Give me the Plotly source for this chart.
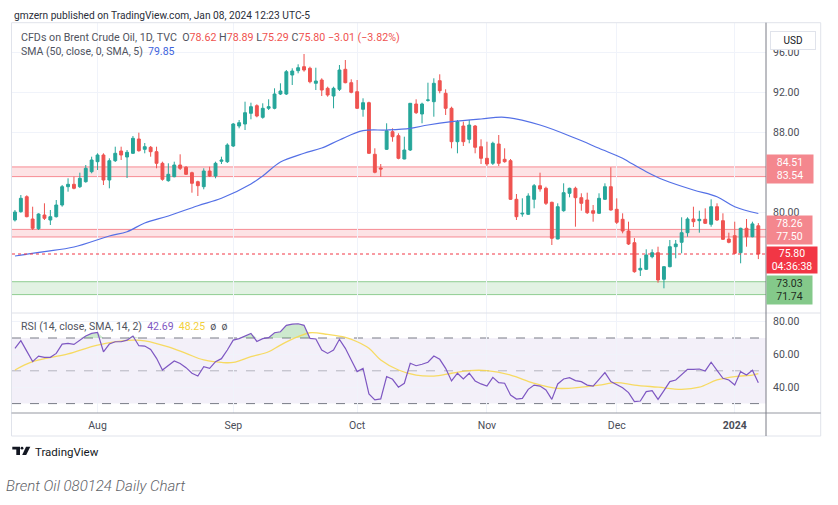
import plotly.graph_objects as go

# ---------------- data ----------------
jul = [12, 13, 14, 17, 18, 19, 20, 21, 24, 25, 26, 27, 28, 31]
aug = [1, 2, 3, 4, 7, 8, 9, 10, 11, 14, 15, 16, 17, 18, 21, 22, 23, 24, 25, 28, 29, 30, 31]
sep = [1, 4, 5, 6, 7, 8, 11, 12, 13, 14, 15, 18, 19, 20, 21, 22, 25, 26, 27, 28, 29]
octo = [2, 3, 4, 5, 6, 9, 10, 11, 12, 13, 16, 17, 18, 19, 20, 23, 24, 25, 26, 27, 30, 31]
nov = [1, 2, 3, 6, 7, 8, 9, 10, 13, 14, 15, 16, 17, 20, 21, 22, 23, 24, 27, 28, 29, 30]
dec = [1, 4, 5, 6, 7, 8, 11, 12, 13, 14, 15, 18, 19, 20, 21, 22, 26, 27, 28, 29]
jan = [2, 3, 4, 5, 8]

dates = ([f"2023-07-{d:02d}" for d in jul] + [f"2023-08-{d:02d}" for d in aug] +
         [f"2023-09-{d:02d}" for d in sep] + [f"2023-10-{d:02d}" for d in octo] +
         [f"2023-11-{d:02d}" for d in nov] + [f"2023-12-{d:02d}" for d in dec] +
         [f"2024-01-{d:02d}" for d in jan])

opens = [79.2, 80.03, 81.53, 79.3, 78.33, 79.7, 79.2, 79.53, 80.7, 82.53, 82.77, 82.53, 83.03, 84.03,
         85.03, 85.7, 83.2, 85.13, 86.1, 85.5, 85.87, 87.3, 86.27, 86.47, 86.03, 84.87, 83.13, 83.53,
         84.7, 84.47, 83.93, 83.03, 82.53, 84.1, 83.6, 85.07, 85.03, 86.6, 88.6, 88.8, 89.87, 90.63,
         89.47, 90.37, 90.37, 91.8, 91.8, 93.7, 94.13, 94.53, 94.37, 92.87, 93.2, 92.37, 91.6, 92.27,
         94.27, 92.93, 92.03, 90.27, 90.93, 85.77, 84.4, 86.27, 88.03, 87.63, 85.3, 86.2, 90.8, 89.8,
         91.17, 91.03, 93.13, 91.87, 90.37, 87.03, 88.6, 87.27, 88.6, 86.53, 85.37, 84.87, 86.8, 85.27,
         85.13, 81.27, 79.8, 79.77, 81.27, 82.63, 82.37, 80.97, 77.3, 80.13, 81.87, 82.37, 81.43, 81.2,
         80.13, 79.87, 81.27, 82.53, 80.27, 79.27, 78.1, 76.93, 74.2, 74.27, 75.53, 75.93, 73.27, 74.53,
         76.53, 76.97, 77.93, 79.3, 79.13, 79.27, 78.77, 80.53, 79.13, 77.3, 77.63, 75.93, 78.37, 77.53,
         78.62]
highs = [80.2, 81.7, 81.67, 80.53, 79.87, 80.87, 80.2, 81.2, 82.7, 83.37, 83.53, 83.93, 84.7, 85.53,
         85.87, 85.87, 85.37, 86.53, 86.53, 86.2, 87.6, 87.93, 86.9, 86.6, 86.53, 85.03, 84.87, 85.03,
         85.77, 84.6, 84.03, 83.13, 84.37, 84.53, 85.03, 85.53, 86.87, 88.9, 89.2, 91.03, 90.93, 90.77,
         90.87, 91.27, 92.37, 92.87, 94.2, 94.37, 94.77, 95.8, 94.53, 94.43, 93.37, 92.53, 92.53, 94.7,
         95.2, 93.27, 93.2, 91.37, 91.03, 86.37, 84.8, 88.87, 88.37, 87.87, 87.53, 90.9, 91.27, 90.93,
         92.93, 93.37, 93.77, 92.27, 90.53, 89.2, 89.03, 89.2, 88.7, 87.27, 87.03, 87.03, 87.7, 86.37,
         85.3, 81.8, 81.37, 81.87, 82.8, 83.93, 82.53, 81.03, 80.87, 82.87, 82.43, 82.53, 81.87, 81.93,
         80.7, 81.87, 82.87, 84.47, 81.37, 79.87, 79.03, 77.4, 75.37, 76.27, 76.27, 76.53, 74.6, 77.2,
         77.2, 79.47, 79.47, 80.53, 80.13, 80.37, 81.27, 80.87, 79.87, 77.93, 79.03, 78.43, 79.3, 79.03,
         78.89]
lows = [79.05, 79.93, 79.47, 78.2, 78.2, 79.2, 78.7, 79.45, 80.53, 82.03, 82.27, 82.4, 82.93, 83.87,
        84.2, 82.7, 82.37, 85.0, 85.2, 83.4, 85.8, 86.03, 85.87, 85.53, 84.37, 83.13, 83.03, 83.47,
        84.2, 83.7, 81.93, 81.6, 82.27, 83.5, 83.37, 84.8, 84.9, 86.5, 88.37, 88.2, 89.27, 89.47,
        89.33, 90.2, 90.27, 91.7, 91.7, 92.7, 93.87, 94.03, 92.87, 92.2, 91.6, 91.53, 90.37, 92.1,
        92.87, 91.87, 90.3, 89.53, 85.8, 83.87, 83.53, 86.2, 87.03, 85.27, 85.27, 86.1, 89.8, 88.87,
        91.03, 89.53, 91.87, 89.7, 86.37, 85.87, 86.6, 86.87, 85.87, 84.8, 84.6, 84.7, 84.6, 84.93,
        81.2, 79.2, 79.53, 79.7, 80.37, 82.03, 80.7, 76.7, 77.27, 80.03, 81.47, 78.53, 80.13, 79.8,
        79.03, 79.8, 81.2, 80.13, 78.8, 77.87, 76.7, 73.93, 73.6, 74.2, 75.37, 72.93, 72.37, 74.47,
        75.37, 75.87, 77.53, 78.5, 77.93, 78.8, 78.53, 79.1, 77.2, 76.87, 75.8, 74.87, 76.53, 77.47,
        75.29]
closes = [80.0, 81.37, 79.53, 78.37, 79.8, 79.37, 79.53, 80.7, 82.53, 82.77, 82.37, 83.37, 84.37, 85.2,
          85.7, 83.2, 85.13, 85.87, 85.7, 85.97, 87.37, 86.13, 86.53, 86.03, 84.87, 83.27, 83.77, 84.7,
          84.37, 83.77, 82.87, 82.63, 84.1, 83.6, 84.87, 85.2, 86.7, 88.8, 88.93, 89.93, 90.53, 89.6,
          90.37, 90.53, 91.8, 92.1, 94.03, 94.1, 94.43, 94.2, 93.03, 93.1, 92.2, 91.7, 92.37, 94.2,
          92.93, 91.97, 90.37, 90.93, 85.87, 83.97, 84.3, 88.13, 87.53, 85.37, 86.2, 90.87, 89.93, 90.8,
          91.2, 92.87, 92.13, 90.37, 87.03, 89.03, 87.03, 88.7, 86.47, 85.37, 84.8, 86.87, 84.87, 85.03,
          81.27, 79.53, 79.87, 81.6, 82.63, 82.3, 80.87, 77.37, 80.53, 81.93, 82.37, 81.43, 80.87, 79.93,
          79.87, 81.37, 82.53, 80.2, 78.97, 78.1, 76.8, 74.03, 74.37, 75.7, 75.93, 73.2, 74.53, 76.53,
          76.8, 77.93, 79.3, 79.03, 79.27, 78.87, 80.53, 79.2, 77.27, 76.97, 75.87, 78.37, 77.53, 78.81,
          75.80]

sma_idx = [0, 5, 10, 16, 19, 22, 26, 31, 35, 40, 42, 45, 49, 52, 55, 59, 63, 67, 70, 74, 79, 83,
           89, 95, 99, 103, 104, 107, 110, 115, 119, 122, 126]
sma_vals = [75.6, 76.03, 76.5, 77.6, 78.03, 78.9, 79.6, 80.63, 81.37, 82.8, 83.6, 85.0, 85.87, 86.4,
            87.2, 88.13, 88.2, 88.37, 88.7, 89.03, 89.3, 89.47, 88.7, 87.37, 86.37, 85.37, 85.03, 84.03,
            83.2, 82.2, 81.53, 80.53, 79.85]

rsi = [63.7, 68.4, 62.0, 55.6, 59.0, 58.2, 58.2, 60.6, 66.3, 66.7, 66.1, 68.7, 71.2, 72.8, 73.4, 61.6,
       66.3, 67.7, 67.7, 68.7, 71.2, 65.3, 65.1, 63.0, 57.6, 50.5, 53.1, 56.0, 54.5, 51.9, 48.5, 46.8,
       52.5, 51.5, 55.6, 57.4, 62.7, 68.7, 69.6, 71.2, 72.8, 67.9, 69.6, 70.2, 73.2, 73.8, 77.7, 78.5,
       78.7, 77.7, 69.8, 69.4, 62.7, 60.6, 62.7, 69.2, 63.7, 56.6, 49.5, 51.5, 35.9, 32.3, 32.9, 46.5,
       44.8, 40.0, 42.4, 54.6, 53.1, 54.0, 55.2, 59.0, 57.0, 51.5, 43.8, 48.5, 45.0, 48.5, 43.8, 42.0,
       40.7, 46.0, 42.8, 42.4, 35.2, 32.8, 33.2, 38.7, 41.3, 40.7, 38.3, 32.6, 42.0, 45.0, 45.8, 44.0,
       43.4, 41.3, 40.7, 44.8, 48.9, 43.4, 41.3, 39.7, 36.7, 31.2, 31.6, 37.3, 37.9, 32.6, 37.9, 43.4,
       44.4, 47.4, 50.9, 50.9, 51.1, 49.9, 55.2, 50.3, 45.4, 44.4, 41.3, 49.5, 47.4, 50.3, 42.69]

rsi_ma_idx = [0, 3, 9, 14, 20, 22, 26, 29, 32, 35, 37, 40, 43, 45, 48, 50, 53, 56, 58, 60, 62, 65,
              68, 71, 74, 77, 80, 84, 88, 92, 96, 99, 102, 105, 109, 113, 116, 119, 122, 125, 126]
rsi_ma_vals = [50.5, 55.6, 60.3, 65.7, 68.7, 68.3, 64.6, 60.6, 56.6, 55.1, 55.1, 58.6, 61.6, 65.7,
               70.8, 73.2, 72.2, 70.4, 67.7, 63.7, 56.6, 50.5, 47.4, 46.8, 48.5, 50.1, 50.1, 47.4,
               42.4, 39.3, 40.0, 41.3, 42.8, 41.3, 40.0, 38.7, 40.0, 44.4, 46.5, 47.4, 48.25]

res_zone_1 = [83.54, 84.51]
res_zone_2 = [77.50, 78.26]
sup_zone = [71.74, 73.03]

month_ticks = ["2023-08-01", "2023-09-01", "2023-10-02", "2023-11-01", "2023-12-01", "2024-01-02"]
month_text = ["Aug", "Sep", "Oct", "Nov", "Dec", "<b>2024</b>"]
price_ticks = [80, 88, 92, 96]
rsi_ticks = [40, 60, 80]

# ---------------- style ----------------
W, Hh = 838, 505
ML, MR, MT, MB = 12, 72, 23, 92
PW, PH = W - ML - MR, Hh - MT - MB
split = (413 - 313) / PH
FONT = "Roboto"
UP, DN = "#26a69a", "#ef5350"
BLUE = "#5470e6"
PURPLE = "#7e57c2"
YEL = "rgba(247,214,72,0.85)"
GRID = "#f0f3fa"
TXT = "#50535e"


def px(x):
    return (x - ML) / PW


def py(y):
    return (MT + PH - y) / PH


n = len(dates)
fig = go.Figure()

fig.add_trace(go.Candlestick(
    x=dates, open=opens, high=highs, low=lows, close=closes,
    increasing=dict(line=dict(color=UP, width=1), fillcolor=UP),
    decreasing=dict(line=dict(color=DN, width=1), fillcolor=DN),
    whiskerwidth=0, xaxis="x", yaxis="y", showlegend=False, hoverinfo="skip"))

fig.add_trace(go.Scatter(
    x=[dates[i] for i in sma_idx], y=sma_vals, mode="lines",
    line=dict(color=BLUE, width=1.2, shape="spline"), xaxis="x", yaxis="y",
    showlegend=False, hoverinfo="skip"))

# RSI overbought fill
fig.add_trace(go.Scatter(x=dates, y=[70] * n, mode="lines", line=dict(width=0),
                         xaxis="x2", yaxis="y2", showlegend=False, hoverinfo="skip"))
fig.add_trace(go.Scatter(x=dates, y=[max(v, 70) for v in rsi], mode="lines", line=dict(width=0),
                         fill="tonexty", fillcolor="rgba(76,175,80,0.28)",
                         xaxis="x2", yaxis="y2", showlegend=False, hoverinfo="skip"))
fig.add_trace(go.Scatter(
    x=[dates[i] for i in rsi_ma_idx], y=rsi_ma_vals, mode="lines",
    line=dict(color=YEL, width=1.3, shape="spline"), xaxis="x2", yaxis="y2",
    showlegend=False, hoverinfo="skip"))
fig.add_trace(go.Scatter(x=dates, y=rsi, mode="lines", line=dict(color=PURPLE, width=1.2),
                         xaxis="x2", yaxis="y2", showlegend=False, hoverinfo="skip"))

shapes = []
# zones
for z, fc, lc in [(res_zone_1, "rgba(242,54,69,0.14)", "rgba(242,54,69,0.55)"),
                  (res_zone_2, "rgba(242,54,69,0.14)", "rgba(242,54,69,0.55)"),
                  (sup_zone, "rgba(76,175,80,0.16)", "rgba(76,175,80,0.6)")]:
    shapes.append(dict(type="rect", xref="x domain", yref="y", x0=0, x1=1, y0=z[0], y1=z[1],
                       fillcolor=fc, line=dict(width=0), layer="below"))
    for v in z:
        shapes.append(dict(type="line", xref="x domain", yref="y", x0=0, x1=1, y0=v, y1=v,
                           line=dict(color=lc, width=1), layer="below"))
# last price dotted line
shapes.append(dict(type="line", xref="x domain", yref="y", x0=0, x1=1, y0=closes[-1], y1=closes[-1],
                   line=dict(color="#f23645", width=1, dash="dot")))
# RSI band and levels
shapes.append(dict(type="rect", xref="x2 domain", yref="y2", x0=0, x1=1, y0=30, y1=70,
                   fillcolor="rgba(126,87,194,0.09)", line=dict(width=0), layer="below"))
for lvl, col in [(70, "#787b86"), (50, "rgba(120,123,134,0.5)"), (30, "#787b86")]:
    shapes.append(dict(type="line", xref="x2 domain", yref="y2", x0=0, x1=1, y0=lvl, y1=lvl,
                       line=dict(color=col, width=1, dash="dash"), layer="below"))
# frame lines
shapes.append(dict(type="rect", xref="paper", yref="paper", x0=px(11.5), x1=px(820.7),
                   y0=py(436), y1=py(22.7), line=dict(color="#e0e3eb", width=1)))
shapes.append(dict(type="line", xref="paper", yref="paper", x0=px(11.5), x1=px(820.7),
                   y0=py(313), y1=py(313), line=dict(color="#dfe1e8", width=1)))
shapes.append(dict(type="line", xref="paper", yref="paper", x0=px(11.5), x1=px(820.7),
                   y0=py(413), y1=py(413), line=dict(color="#9598a1", width=1)))
shapes.append(dict(type="line", xref="paper", yref="paper", x0=1, x1=1,
                   y0=py(436), y1=py(22.7), line=dict(color="#7a7d86", width=1)))
# TradingView logo
shapes.append(dict(type="path", xref="paper", yref="paper", fillcolor="#131722", line=dict(width=0),
                   path=(f"M {px(12.3)},{py(446.7)} L {px(20)},{py(446.7)} L {px(20)},{py(455)} "
                         f"L {px(16.3)},{py(455)} L {px(16.3)},{py(449.6)} L {px(12.3)},{py(449.6)} Z")))
shapes.append(dict(type="circle", xref="paper", yref="paper", fillcolor="#131722", line=dict(width=0),
                   x0=px(20.6), x1=px(23.4), y0=py(449.6), y1=py(446.8)))
shapes.append(dict(type="path", xref="paper", yref="paper", fillcolor="#131722", line=dict(width=0),
                   path=(f"M {px(26)},{py(446.7)} L {px(30.3)},{py(446.7)} L {px(26.2)},{py(455)} "
                         f"L {px(22.2)},{py(455)} Z")))

anns = []


def text_ann(x, y, txt, size=10, color=TXT, **kw):
    d = dict(xref="paper", yref="paper", x=px(x), y=py(y), text=txt, showarrow=False,
             xanchor="left", yanchor="middle", font=dict(family=FONT, size=size, color=color))
    d.update(kw)
    anns.append(d)


RED_T = "#ef5350"
chg = closes[-1] - closes[-2]
pct = chg / closes[-2] * 100


def sp(c, t):
    return f"<span style='color:{c}'>{t}</span>"


def sgn(v, f):
    return ("\u2212" if v < 0 else "+") + format(abs(v), f)


text_ann(12, 15, "gmzern published on TradingView.com, Jan 08, 2024 12:23 UTC-5", 10.2, "#2a2e39")
text_ann(18.5, 37.5,
         "CFDs on Brent Crude Oil, 1D, TVC  "
         f"O{sp(RED_T, f'{opens[-1]:.2f}')} H{sp(RED_T, f'{highs[-1]:.2f}')} "
         f"L{sp(RED_T, f'{lows[-1]:.2f}')} C{sp(RED_T, f'{closes[-1]:.2f}')} "
         + sp(RED_T, f"{sgn(chg, '.2f')} ({sgn(pct, '.2f')}%)"), 10.7)
text_ann(18.5, 52, f"SMA (50, close, 0, SMA, 5)  {sp('#3d63dd', f'{sma_vals[-1]:.2f}')}", 10.5)
text_ann(19, 326, f"RSI (14, close, SMA, 14, 2)  {sp(PURPLE, f'{rsi[-1]:.2f}')}  "
                  f"{sp('#f2d03b', f'{rsi_ma_vals[-1]:.2f}')}  \u00f8  \u00f8", 10.5)
text_ann(32.5, 451.5, "TradingView", 11.5, "#131722")
text_ann(3.5, 486, "Brent Oil 080124 Daily Chart", 15, "#5f6368",
         font=dict(family=FONT, size=15, color="#5f6368", style="italic", weight=300))

# USD button
anns.append(dict(xref="paper", yref="paper", x=px(792.5), y=py(41), text="USD", showarrow=False,
                 xanchor="center", yanchor="middle", width=44, height=17, bgcolor="white",
                 bordercolor="#e0e3eb", borderwidth=1, borderpad=0,
                 font=dict(family=FONT, size=10, color="#131722")))


def price_box(vals, yshift, bg, fc, w):
    anns.append(dict(xref="paper", yref="y", x=1.0, y=sum(vals) / len(vals), yshift=yshift,
                     text="<br>".join(f"{v:.2f}" for v in vals),
                     showarrow=False, xanchor="left", yanchor="middle", align="center",
                     width=w, height=28, bgcolor=bg, borderpad=0,
                     font=dict(family=FONT, size=10.5, color=fc)))


price_box(res_zone_1[::-1], 2.3, "#f4878e", "white", 46)
price_box(res_zone_2[::-1], 3, "#f4878e", "white", 45)
price_box(sup_zone[::-1], -1.5, "#84c98a", "#1f2d1f", 45)
anns.append(dict(xref="paper", yref="y", x=1.0, y=closes[-1], yshift=-6.3,
                 text=f"{closes[-1]:.2f}<br>04:36:38", showarrow=False, xanchor="left",
                 yanchor="middle", align="center", width=50, height=26, bgcolor="#f23645",
                 borderpad=0, font=dict(family=FONT, size=10.5, color="white")))

xrange = [-0.5, 127.3]
fig.update_layout(
    width=W, height=Hh, margin=dict(l=ML, r=MR, t=MT, b=MB),
    paper_bgcolor="white", plot_bgcolor="white", showlegend=False,
    font=dict(family=FONT, size=10, color="#4a4d57"),
    shapes=shapes, annotations=anns,
    xaxis=dict(type="category", categoryorder="array", categoryarray=dates, domain=[0, 1],
               anchor="y", range=xrange, tickvals=month_ticks, showticklabels=False,
               showgrid=True, gridcolor=GRID, zeroline=False, showline=False,
               rangeslider=dict(visible=False), fixedrange=True),
    xaxis2=dict(type="category", categoryorder="array", categoryarray=dates, domain=[0, 1],
                anchor="y2", range=xrange, tickvals=month_ticks, ticktext=month_text,
                showgrid=True, gridcolor=GRID, zeroline=False, showline=False, ticks="",
                tickfont=dict(family=FONT, size=10.5, color="#4a4d57"), ticklabelstandoff=4),
    yaxis=dict(domain=[split, 1], anchor="x", side="right", range=[69.9, 98.9],
               tickvals=price_ticks, ticktext=[f"{v:.2f}" for v in price_ticks],
               showgrid=True, gridcolor=GRID, zeroline=False, showline=False, ticks="",
               tickfont=dict(family=FONT, size=10.5, color="#4a4d57"), ticklabelstandoff=6),
    yaxis2=dict(domain=[0, split], anchor="x2", side="right", range=[24.27, 85.24],
                tickvals=rsi_ticks, ticktext=[f"{v:.2f}" for v in rsi_ticks],
                showgrid=True, gridcolor=GRID, zeroline=False, showline=False, ticks="",
                tickfont=dict(family=FONT, size=10.5, color="#4a4d57"), ticklabelstandoff=6),
)

fig.write_html("out.html", config={"displayModeBar": False},
               post_script="document.body.style.margin='0';")
